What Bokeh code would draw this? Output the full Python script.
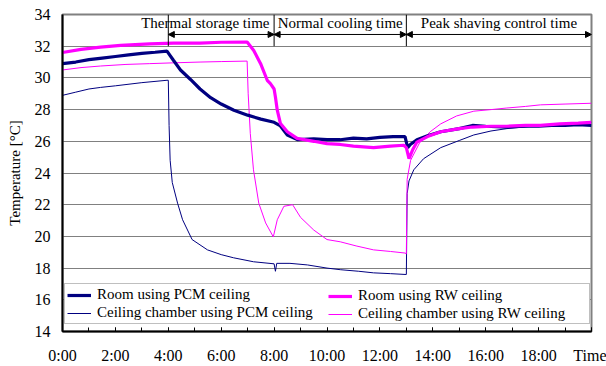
from bokeh.plotting import figure
from bokeh.models import (FixedTicker, Legend, LegendItem, Arrow, NormalHead,
                          Range1d, ColumnDataSource)
from bokeh.embed import file_html
from bokeh.resources import INLINE
from bokeh.core.properties import value

FONT = "Liberation Serif"

# ---------------- data (hours, °C) ----------------
room_pcm_h = [0, 0.5, 1, 1.5, 2, 2.5, 3, 3.5, 3.95, 4.2, 4.46, 4.84, 5.2, 5.6, 6.0, 6.48,
              7.0, 7.5, 8.0, 8.24, 8.5, 8.9, 9.5, 10.0, 10.5, 11.0, 11.5, 12.0, 12.5,
              12.95, 13.05, 13.15, 13.4, 13.8, 14.3, 15.0, 15.5, 16.0, 16.8, 17.5, 18.0,
              18.5, 19.0, 19.5, 20.0]
room_pcm_t = [30.9, 31.0, 31.15, 31.25, 31.35, 31.45, 31.55, 31.62, 31.69, 31.1, 30.5,
              29.9, 29.3, 28.75, 28.35, 27.96, 27.65, 27.4, 27.2, 26.97, 26.4, 26.1, 26.15,
              26.1, 26.1, 26.2, 26.15, 26.25, 26.3, 26.3, 25.6, 25.8, 26.1, 26.35, 26.6,
              26.8, 27.0, 26.95, 26.9, 26.95, 26.95, 27.0, 27.0, 27.05, 27.0]

room_rw_h = [0, 0.7, 1.44, 2.2, 3.3, 4.2, 5.2, 6.0, 6.98, 7.23, 7.49, 7.74, 7.86, 8.0,
             8.05, 8.12, 8.24, 8.5, 8.87, 9.5, 10.0, 10.5, 11.0, 11.76, 12.4, 12.9, 13.0,
             13.1, 13.25, 13.4, 13.8, 14.3, 15.0, 15.5, 16.2, 16.8, 17.5, 18.07, 18.8,
             19.5, 20.0]
room_rw_t = [31.6, 31.8, 31.94, 32.05, 32.15, 32.2, 32.2, 32.25, 32.26, 31.73, 30.9,
             29.85, 29.64, 29.3, 28.8, 27.96, 27.12, 26.6, 26.18, 26.0, 25.85, 25.8, 25.7,
             25.6, 25.7, 25.75, 25.6, 24.9, 25.5, 25.95, 26.3, 26.6, 26.8, 26.9, 26.95,
             26.95, 27.0, 27.0, 27.1, 27.15, 27.2]

chamber_pcm_h = [0, 0.5, 1.0, 1.44, 2.0, 3.0, 3.95, 4.0, 4.03, 4.07, 4.15, 4.35, 4.54,
                 4.9, 5.48, 6.0, 6.47, 7.22, 8.0, 8.05, 8.1, 8.6, 9.26, 10.0, 10.5, 11.2,
                 11.76, 12.4, 12.95, 13.0, 13.03, 13.1, 13.28, 13.65, 14.3, 15.0, 15.55,
                 16.2, 16.8, 18.07, 19.0, 20.0]
chamber_pcm_t = [28.9, 29.1, 29.3, 29.4, 29.5, 29.7, 29.85, 29.85, 27.0, 24.8, 23.4, 22.1,
                 21.05, 19.8, 19.15, 18.85, 18.65, 18.4, 18.27, 17.8, 18.3, 18.3, 18.2,
                 18.0, 17.9, 17.8, 17.7, 17.65, 17.6, 17.6, 22.7, 23.5, 24.2, 24.9, 25.6,
                 26.05, 26.4, 26.65, 26.8, 27.0, 27.1, 27.2]

chamber_rw_h = [0, 0.7, 1.44, 2.4, 3.3, 4.2, 5.2, 6.0, 6.98, 7.02, 7.1, 7.22, 7.42, 7.68,
                7.97, 8.12, 8.37, 8.7, 9.0, 9.5, 10.0, 10.5, 11.1, 11.76, 12.4, 12.95, 13.0,
                13.03, 13.16, 13.5, 13.9, 14.3, 14.9, 15.55, 16.2, 16.8, 17.5, 18.07, 19.0,
                20.0]
chamber_rw_t = [30.5, 30.65, 30.75, 30.85, 30.9, 30.95, 31.0, 31.03, 31.06, 29.0, 26.5,
                24.2, 22.1, 20.85, 19.97, 21.05, 21.9, 22.0, 21.2, 20.4, 19.8, 19.66, 19.4,
                19.15, 19.05, 18.95, 18.9, 23.6, 24.8, 25.9, 26.6, 27.1, 27.6, 27.9, 28.0,
                28.1, 28.2, 28.3, 28.35, 28.4]

series_labels = ["Room using PCM ceiling", "Room using RW ceiling",
                 "Ceiling chamber using PCM ceiling", "Ceiling chamber using RW ceiling"]

phase_bounds = [4, 8, 13, 20]
phase_labels = ["Thermal storage time", "Normal cooling time", "Peak shaving control time"]
phase_label_x = [5.4, 10.5, 16.5]

y_ticks = list(range(14, 35, 2))
x_ticks = list(range(0, 21, 2))
x_tick_labels = ["0:00", "2:00", "4:00", "6:00", "8:00", "10:00", "12:00", "14:00",
                 "16:00", "18:00", "Time"]

NAVY = "#000080"
MAGENTA = "#FF00FF"

# ---------------- figure ----------------
p = figure(width=606, height=366, output_backend="svg", toolbar_location=None,
           x_range=Range1d(0, 20), y_range=Range1d(14, 34),
           min_border_left=62, min_border_right=15, min_border_top=14,
           min_border_bottom=34)
p.background_fill_color = "white"
p.border_fill_color = "white"
p.outline_line_color = "#808080"
p.outline_line_width = 2

p.xgrid.visible = False
p.ygrid.ticker = FixedTicker(ticks=y_ticks)
p.ygrid.grid_line_color = "#808080"
p.ygrid.grid_line_width = 1

xa = p.xaxis[0]
xa.ticker = FixedTicker(ticks=x_ticks, minor_ticks=list(range(0, 21)))
xa.major_label_overrides = {t: lab for t, lab in zip(x_ticks, x_tick_labels)}
xa.major_tick_in = 4
xa.major_tick_out = 0
xa.minor_tick_in = 4
xa.minor_tick_out = 0
xa.axis_line_width = 2
xa.axis_line_color = "black"
xa.major_tick_line_color = "black"
xa.minor_tick_line_color = "black"
xa.major_label_text_font = FONT
xa.major_label_text_font_size = "16px"
xa.major_label_text_color = "black"
xa.major_label_standoff = 15

ya = p.yaxis[0]
ya.ticker = FixedTicker(ticks=y_ticks)
ya.major_tick_in = 0
ya.major_tick_out = 0
ya.minor_tick_line_color = None
ya.axis_line_width = 2
ya.axis_line_color = "black"
ya.major_label_text_font = FONT
ya.major_label_text_font_size = "16px"
ya.major_label_text_color = "black"
ya.major_label_standoff = 12
ya.axis_label = "Temperature [°C]"
ya.axis_label_text_font = FONT
ya.axis_label_text_font_size = "15px"
ya.axis_label_text_font_style = "normal"
ya.axis_label_text_color = "black"
ya.axis_label_standoff = 9

# ---------------- series ----------------
r_ch_pcm = p.line(chamber_pcm_h, chamber_pcm_t, line_color=NAVY, line_width=1)
r_ch_rw = p.line(chamber_rw_h, chamber_rw_t, line_color=MAGENTA, line_width=1)
r_rm_pcm = p.line(room_pcm_h, room_pcm_t, line_color=NAVY, line_width=3.2)
r_rm_rw = p.line(room_rw_h, room_rw_t, line_color=MAGENTA, line_width=3.2)

# ---------------- phase annotations ----------------
y_top = y_ticks[-1]
y_sep = y_ticks[-2]
y_arrow = y_top - 1.26
y_label = y_top - 0.52
p.segment(x0=phase_bounds[:-1], y0=[y_sep] * 3, x1=phase_bounds[:-1], y1=[y_top] * 3,
          line_color="black", line_width=1)
arrow_src = ColumnDataSource(dict(xs=phase_bounds[:-1], xe=phase_bounds[1:],
                                  ys=[y_arrow] * 3, ye=[y_arrow] * 3))
p.add_layout(Arrow(source=arrow_src, x_start="xs", y_start="ys", x_end="xe", y_end="ye",
                   line_color="black", line_width=1,
                   start=NormalHead(size=6, fill_color="black", line_color="black"),
                   end=NormalHead(size=6, fill_color="black", line_color="black")))
p.text(x=phase_label_x, y=[y_label] * 3, text=phase_labels, text_font=value(FONT),
       text_font_size="15px", text_align="center", text_baseline="middle",
       text_color="black")

# ---------------- legend (two columns) ----------------
common = dict(label_text_font=FONT, label_text_font_size="15px", label_text_color="black",
              glyph_width=24, glyph_height=10, label_height=10, label_standoff=6,
              spacing=1, padding=2, margin=0)
leg1 = Legend(items=[LegendItem(label=series_labels[0], renderers=[r_rm_pcm]),
                     LegendItem(label=series_labels[2], renderers=[r_ch_pcm])],
              location=(2, 7), label_width=490, border_line_color="#808080",
              border_line_width=1, background_fill_color="white",
              background_fill_alpha=1.0, **common)
leg2 = Legend(items=[LegendItem(label=series_labels[1], renderers=[r_rm_rw]),
                     LegendItem(label=series_labels[3], renderers=[r_ch_rw])],
              location=(264, 7), border_line_alpha=0, background_fill_alpha=0,
              **common)
p.add_layout(leg1)
p.add_layout(leg2)

open("out.html", "w").write(file_html(p, INLINE))
